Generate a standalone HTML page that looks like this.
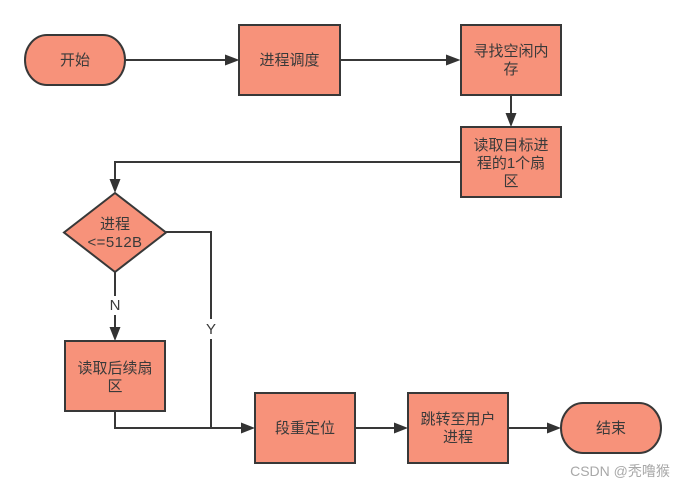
<!DOCTYPE html>
<html><head><meta charset="utf-8"><style>
html,body{margin:0;padding:0;background:#fff}
svg{display:block}
text{font-family:"Liberation Sans","Noto Sans CJK SC",sans-serif;font-size:15px;fill:#3a3a3a;text-anchor:middle}
.s{fill:#F7927A;stroke:#383838;stroke-width:2}
.l{fill:none;stroke:#383838;stroke-width:2}
.a{fill:#333;stroke:none}
</style></head><body>
<svg width="685" height="488" viewBox="0 0 685 488" xmlns="http://www.w3.org/2000/svg">
<rect width="685" height="488" fill="#fff"/>
<path class="l" d="M125 60H226M340 60H447M511 95V114M461 162H115V179M166 232H211V428M115 272V298M115 314V328M115 411V428H242"/>
<path class="l" d="M355 428H394M508 428H547"/>
<path class="a" d="M239.500 60L225 54.500V65.500ZM460.500 60L446 54.500V65.500ZM511 127L505.500 113H516.500ZM115 193L109.500 179H120.500ZM115 341L109.500 327H120.500ZM255 428L241 422.500V433.500ZM408 428L394 422.500V433.500ZM561 428L547 422.500V433.500Z"/>
<rect x="200" y="319" width="22" height="20" fill="#fff"/>
<rect x="105" y="296" width="20" height="19" fill="#fff"/>
<rect class="s" x="25" y="35" width="100" height="50" rx="22" ry="25"/>
<rect class="s" x="239" y="25" width="101" height="70"/>
<rect class="s" x="461" y="25" width="100" height="70"/>
<rect class="s" x="461" y="127" width="100" height="70"/>
<path class="s" d="M115 193L166 232.500L115 272L64 232.500Z"/>
<rect class="s" x="65" y="341" width="100" height="70"/>
<rect class="s" x="255" y="393" width="100" height="70"/>
<rect class="s" x="408" y="393" width="100" height="70"/>
<rect class="s" x="561" y="403" width="100" height="50" rx="22" ry="25"/>
<text x="75" y="65">开始</text>
<text x="289.500" y="65">进程调度</text>
<text x="511" y="56">寻找空闲内</text>
<text x="511" y="74">存</text>
<text x="511" y="150">读取目标进</text>
<text x="511" y="168">程的1个扇</text>
<text x="511" y="186">区</text>
<text x="115" y="229">进程</text>
<text x="115" y="247" style="letter-spacing:.4px">&lt;=512B</text>
<text x="115" y="310">N</text>
<text x="211" y="334">Y</text>
<text x="115" y="373">读取后续扇</text>
<text x="115" y="391">区</text>
<text x="305" y="433">段重定位</text>
<text x="458" y="424">跳转至用户</text>
<text x="458" y="442">进程</text>
<text x="611" y="433">结束</text>
<text x="620" y="476" style="font-size:14px;fill:#a8a8a8">CSDN @秃噜猴</text>
</svg>
</body></html>
